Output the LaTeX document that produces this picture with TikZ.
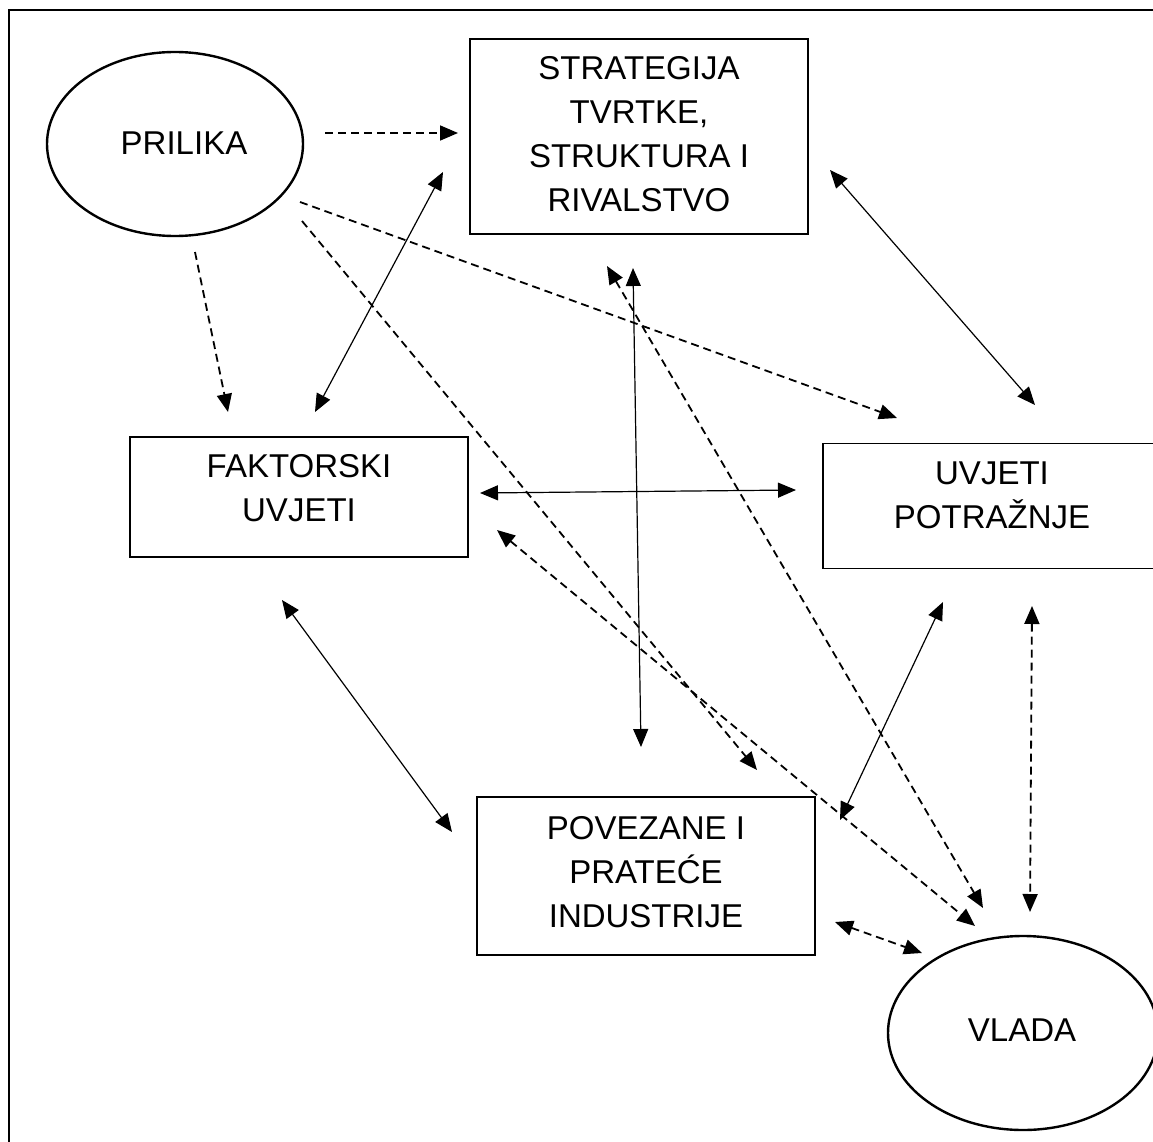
\documentclass[tikz,border=0pt]{standalone}
\usepackage{fontspec}
\setmainfont{Liberation Sans}
\usetikzlibrary{arrows.meta,shapes.geometric}
\begin{document}
\begin{tikzpicture}[x=1pt,y=-1pt,
  >={Triangle[length=18pt,width=15pt]},
  box/.style={draw, line width=1.2pt, rectangle, inner sep=0pt},
  oval/.style={draw, ellipse, line width=2.4pt, inner sep=0pt},
  lbl/.style={font=\fontsize{33}{44}\selectfont, align=center, inner sep=0pt},
  solidcon/.style={line width=1.2pt},
  dashcon/.style={line width=1.8pt, dash pattern=on 8pt off 5pt}
]
\useasboundingbox (0,0) rectangle (1153,1142);
\clip (0,0) rectangle (1153,1142);
\fill[white] (0,0) rectangle (1153,1142);
% frame
\coordinate (fbl) at (9,1160);
\coordinate (ftl) at (9,10);
\coordinate (ftr) at (1170,10);
\draw[line width=1.8pt] (fbl) -- (ftl) -- (ftr);

% nodes
\node[oval, minimum width=256pt, minimum height=184pt] (pri) at (175,144) {};
\node[lbl] (prit) at (184,143) {PRILIKA};

\node[box, minimum width=338pt, minimum height=195pt] (str) at (639,136.5) {};
\node[lbl] (strt) at (639,134) {STRATEGIJA\\TVRTKE,\\STRUKTURA I\\RIVALSTVO};

\node[box, minimum width=338pt, minimum height=120pt] (fak) at (299,497) {};
\node[lbl] (fakt) at (299,488) {FAKTORSKI\\UVJETI};

\node[box, minimum width=340pt, minimum height=125pt] (uvj) at (993,506) {};
\node[lbl] (uvjt) at (992,495) {UVJETI\\POTRAŽNJE};

\node[box, minimum width=338pt, minimum height=158pt] (pov) at (646,876) {};
\node[lbl] (povt) at (646,872) {POVEZANE I\\PRATEĆE\\INDUSTRIJE};

\node[oval, minimum width=270pt, minimum height=194pt] (vla) at (1023,1033) {};
\node[lbl] (vlat) at (1022,1030) {VLADA};

% connector end points
\coordinate (a1s) at (325,133);   \coordinate (a1e) at (458,133);
\coordinate (a2s) at (315,412);   \coordinate (a2e) at (443,172);
\coordinate (a3s) at (195,252);   \coordinate (a3e) at (228,412);
\coordinate (a4s) at (300,202);   \coordinate (a4e) at (897,418);
\coordinate (a5s) at (302,221);   \coordinate (a5e) at (757,770);
\coordinate (a6s) at (607,266);   \coordinate (a6e) at (983,908);
\coordinate (a7s) at (633,268);   \coordinate (a7e) at (641,747);
\coordinate (a8s) at (830,170);   \coordinate (a8e) at (1035,405);
\coordinate (a9s) at (480,493);   \coordinate (a9e) at (796,490);
\coordinate (a10s) at (282,600);  \coordinate (a10e) at (452,832);
\coordinate (a11s) at (943,602);  \coordinate (a11e) at (840,820);
\coordinate (a12s) at (1032,606); \coordinate (a12e) at (1030,912);
\coordinate (a13s) at (497,530);  \coordinate (a13e) at (975,926);
\coordinate (a14s) at (835,922);  \coordinate (a14e) at (922,953);

% PRILIKA dashed single arrows
\draw[dashcon,->] (a1s) -- (a1e);
\draw[dashcon,->] (a3s) -- (a3e);
\draw[dashcon,->] (a4s) -- (a4e);
\draw[dashcon,->] (a5s) -- (a5e);
% solid double arrows
\draw[solidcon,<->] (a2s) -- (a2e);
\draw[solidcon,<->] (a7s) -- (a7e);
\draw[solidcon,<->] (a8s) -- (a8e);
\draw[solidcon,<->] (a9s) -- (a9e);
\draw[solidcon,<->] (a10s) -- (a10e);
\draw[solidcon,<->] (a11s) -- (a11e);
% dashed double arrows (VLADA)
\draw[dashcon,<->] (a6s) -- (a6e);
\draw[dashcon,<->] (a12s) -- (a12e);
\draw[dashcon,<->] (a13s) -- (a13e);
\draw[dashcon,<->] (a14s) -- (a14e);
\end{tikzpicture}
\end{document}
